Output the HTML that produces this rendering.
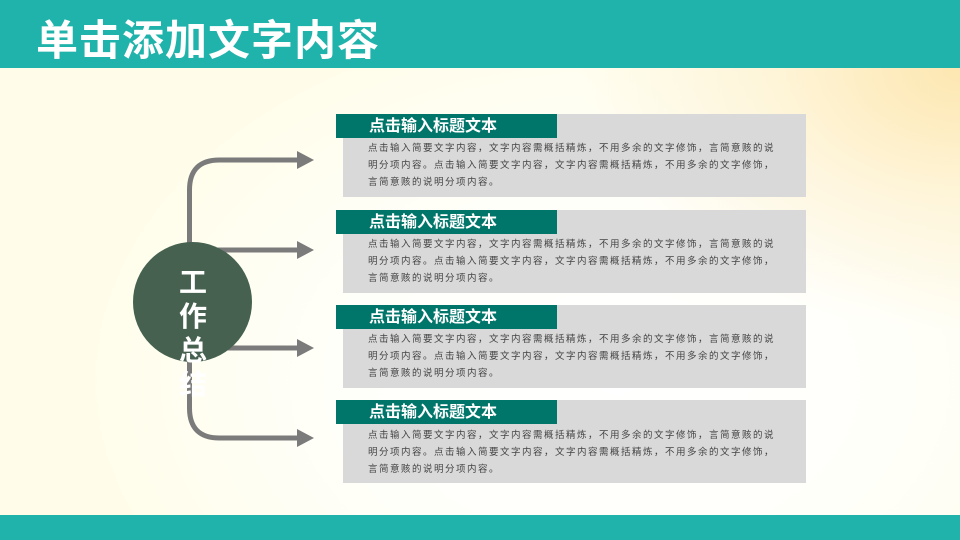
<!DOCTYPE html>
<html><head><meta charset="utf-8"><style>
*{margin:0;padding:0}
body{width:960px;height:540px;overflow:hidden;position:relative;font-family:"Liberation Sans","Noto Sans CJK SC",sans-serif;
background:radial-gradient(ellipse 380px 260px at 960px 70px,rgba(253,230,175,0.95) 0%,rgba(253,236,195,0.5) 50%,rgba(255,255,255,0) 100%),
radial-gradient(ellipse 550px 380px at 620px 380px,#ffffff 0%,#fffffa 50%,rgba(255,253,236,0) 100%),#fffde9;}
.top{position:absolute;left:0;top:0;width:960px;height:68px;background:#20b3ab}
.title{position:absolute;left:36px;top:16px;font-size:42px;font-weight:bold;color:#fff;letter-spacing:1px;line-height:50px}
.bot{position:absolute;left:0;top:515px;width:960px;height:25px;background:#20b3ab}
.box{position:absolute;left:343px;width:463px;height:83px;background:#d9d9d9}
.hd{position:absolute;left:336px;width:221px;height:24px;background:#00756a;color:#fff;font-weight:bold;font-size:16px;line-height:25px;padding-left:33px;box-sizing:border-box}
.tx{position:absolute;left:368px;width:440px;font-size:9.5px;line-height:17px;color:#444;white-space:nowrap;letter-spacing:1.5px}
.circ{position:absolute;left:133px;top:242px;width:119px;height:120px;border-radius:50%;background:#466150}
.ct{position:absolute;left:176px;top:266px;width:34px;font-size:28px;font-weight:bold;color:#fff;line-height:34px;text-align:center}
</style></head><body>
<div class="top"></div><div class="title">单击添加文字内容</div>
<div class="bot"></div>
<svg style="position:absolute;left:0;top:0" width="960" height="540">
<g fill="none" stroke="#7b7b7b" stroke-width="5">
<path d="M189.5 250 V190 Q189.5 160 219.5 160 H300"/>
<path d="M189.5 250 V408 Q189.5 438 219.5 438 H300"/>
<path d="M189.5 250 H300"/>
<path d="M189.5 348 H300"/>
</g>
<g fill="#7b7b7b">
<polygon points="297,151 314,160 297,169"/>
<polygon points="297,241 314,250 297,259"/>
<polygon points="297,339 314,348 297,357"/>
<polygon points="297,429 314,438 297,447"/>
</g>
</svg>
<div class="circ"></div>
<div class="ct">工作总结</div>

<div class="box" style="top:114px"></div><div class="hd" style="top:114px">点击输入标题文本</div>
<div class="tx" style="top:140px">点击输入简要文字内容，文字内容需概括精炼，不用多余的文字修饰，言简意赅的说<br>明分项内容。点击输入简要文字内容，文字内容需概括精炼，不用多余的文字修饰，<br>言简意赅的说明分项内容。</div>
<div class="box" style="top:210px"></div><div class="hd" style="top:210px">点击输入标题文本</div>
<div class="tx" style="top:236px">点击输入简要文字内容，文字内容需概括精炼，不用多余的文字修饰，言简意赅的说<br>明分项内容。点击输入简要文字内容，文字内容需概括精炼，不用多余的文字修饰，<br>言简意赅的说明分项内容。</div>
<div class="box" style="top:305px"></div><div class="hd" style="top:305px">点击输入标题文本</div>
<div class="tx" style="top:331px">点击输入简要文字内容，文字内容需概括精炼，不用多余的文字修饰，言简意赅的说<br>明分项内容。点击输入简要文字内容，文字内容需概括精炼，不用多余的文字修饰，<br>言简意赅的说明分项内容。</div>
<div class="box" style="top:400px"></div><div class="hd" style="top:400px">点击输入标题文本</div>
<div class="tx" style="top:427px">点击输入简要文字内容，文字内容需概括精炼，不用多余的文字修饰，言简意赅的说<br>明分项内容。点击输入简要文字内容，文字内容需概括精炼，不用多余的文字修饰，<br>言简意赅的说明分项内容。</div>
</body></html>
